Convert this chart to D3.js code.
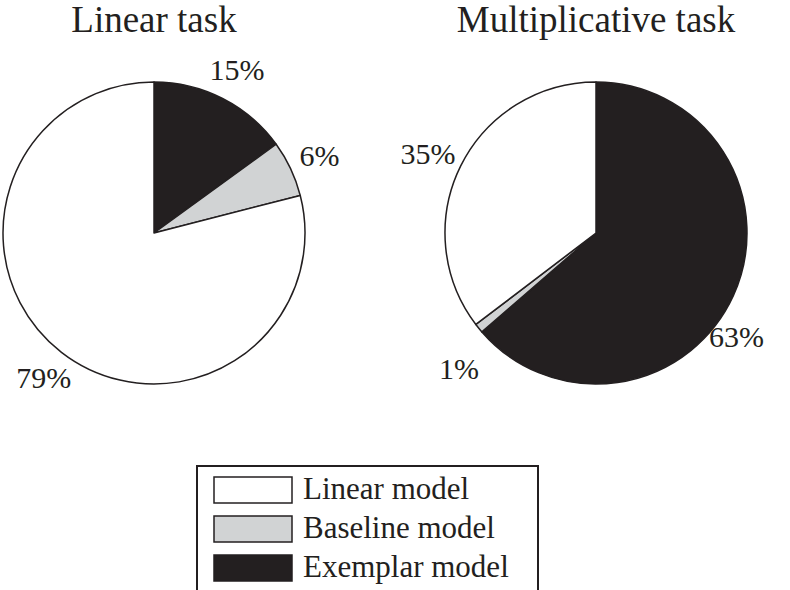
<!DOCTYPE html>
<html><head><meta charset="utf-8">
<script src="https://cdn.jsdelivr.net/npm/d3@7"></script>
<style>body{margin:0;background:#fff}svg{display:block}text{font-family:"Liberation Serif","Times New Roman",serif;fill:#231f20}</style>
</head><body>
<script>
const models = ["Exemplar model", "Baseline model", "Linear model"];
const tasks = ["Linear task", "Multiplicative task"];
const linearTaskValues = [15, 6, 79];
const multiplicativeTaskValues = [63, 1, 35];
const legendOrder = ["Linear model", "Baseline model", "Exemplar model"];

// layout-only label nudges (pixels), per task and slice
const labelNudge = [[[0,0],[0,0],[2,0]], [[-26,27],[5,20],[-4,2]]];

const W = 790, H = 590;
const svg = d3.select("body").append("svg").attr("width", W).attr("height", H);
const color = d3.scaleOrdinal().domain(models).range(["#231f20", "#d1d3d4", "#ffffff"]);
const ink = "#231f20";
const cx = d3.scaleOrdinal().domain(tasks).range([154, 596]);
const cy = 233, R = 151, labelR = 183;

const pie = d3.pie().sort(null).value(d => d.v);
const arc = d3.arc().innerRadius(0).outerRadius(R);
const labelArc = d3.arc().innerRadius(labelR).outerRadius(labelR);

[linearTaskValues, multiplicativeTaskValues].forEach((vals, i) => {
  const task = tasks[i];
  const data = models.map((m, j) => ({m, v: vals[j]}));
  const g = svg.append("g").attr("transform", `translate(${cx(task)},${cy})`);
  const arcs = pie(data);
  g.selectAll("path").data(arcs).join("path")
    .attr("d", arc).attr("fill", d => color(d.data.m))
    .attr("stroke", ink).attr("stroke-width", 1.5).attr("stroke-linejoin", "round");
  g.selectAll("text.lab").data(arcs).join("text").attr("class", "lab")
    .attr("transform", (d, j) => {
      const [x, y] = labelArc.centroid(d);
      return `translate(${x + labelNudge[i][j][0]},${y + labelNudge[i][j][1]})`;
    })
    .attr("text-anchor", "middle").attr("dy", "0.35em")
    .style("font-size", "30px")
    .text(d => d.data.v + "%");
  svg.append("text").attr("x", cx(task)).attr("y", 32)
    .attr("text-anchor", "middle").style("font-size", "37px").text(task);
});

// legend
const lg = svg.append("g");
lg.append("rect").attr("x", 197).attr("y", 466).attr("width", 341).attr("height", 140)
  .attr("fill", "#fff").attr("stroke", ink).attr("stroke-width", 2);
const rowY = d3.scalePoint().domain(legendOrder).range([477, 555]);
legendOrder.forEach(m => {
  lg.append("rect").attr("x", 214).attr("y", rowY(m)).attr("width", 78).attr("height", 26)
    .attr("fill", color(m)).attr("stroke", ink).attr("stroke-width", 1.5);
  lg.append("text").attr("x", 303).attr("y", rowY(m) + 22).style("font-size", "31px").text(m);
});
</script>
</body></html>
